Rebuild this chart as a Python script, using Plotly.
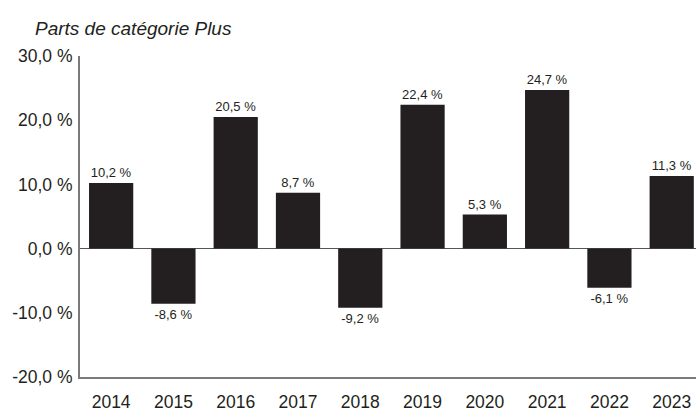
import plotly.graph_objects as go

years = ["2014", "2015", "2016", "2017", "2018", "2019", "2020", "2021", "2022", "2023"]
values = [10.2, -8.6, 20.5, 8.7, -9.2, 22.4, 5.3, 24.7, -6.1, 11.3]
y_ticks = [-20, -10, 0, 10, 20, 30]
y_tick_labels = ["-20,0 %", "-10,0 %", "0,0 %", "10,0 %", "20,0 %", "30,0 %"]
title_text = "Parts de catégorie Plus"

FONT = "Liberation Sans Narrow, Arial Narrow, Liberation Sans, Arial, sans-serif"
INK = "#231f20"

labels = [f"{v:.1f}".replace(".", ",") + " %" for v in values]

fig = go.Figure(go.Bar(
    x=years, y=values, text=labels, textposition="outside",
    textfont=dict(family=FONT, size=13, color=INK),
    marker=dict(color=INK, line=dict(width=0)),
    width=0.71, cliponaxis=False,
))

fig.update_layout(
    width=696, height=412,
    margin=dict(l=80, r=0, t=56, b=32),
    paper_bgcolor="white", plot_bgcolor="white",
    showlegend=False,
    font=dict(family=FONT, color=INK),
    annotations=[dict(
        text="<i>" + title_text + "</i>", xref="paper", yref="paper",
        x=-0.076, y=1.0, xanchor="left", yanchor="bottom", yshift=15,
        showarrow=False, font=dict(family="Liberation Sans, Arial, sans-serif", size=19, color=INK),
    )],
)
fig.update_xaxes(
    type="category", range=[-0.5, 9.39],
    showline=True, linecolor="#7a7a7a", linewidth=2,
    showgrid=False, ticks="outside", ticklen=8, tickcolor="rgba(0,0,0,0)",
    tickfont=dict(family=FONT, size=17.5, color=INK),
)
fig.update_yaxes(
    range=[-20, 30], tickvals=y_ticks, ticktext=y_tick_labels,
    showline=True, linecolor="#7a7a7a", linewidth=2,
    showgrid=False, zeroline=True, zerolinecolor="#555555", zerolinewidth=1,
    ticks="outside", ticklen=2, tickcolor="rgba(0,0,0,0)",
    tickfont=dict(family=FONT, size=17.5, color=INK),
)

fig.write_html("out.html")
